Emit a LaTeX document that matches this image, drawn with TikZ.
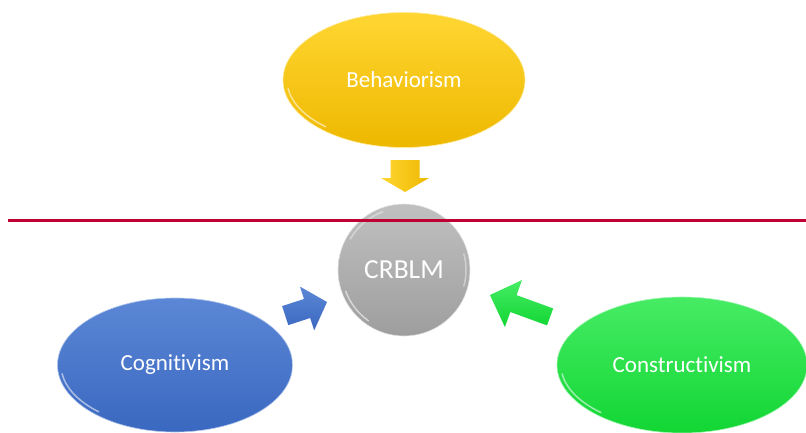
\documentclass[tikz,border=0pt]{standalone}
\usepackage{fontspec}
\setmainfont{Carlito}[Ligatures=NoCommon]
\usetikzlibrary{shapes.geometric}
\definecolor{yelT}{RGB}{255,214,50}
\definecolor{yelB}{RGB}{238,184,0}
\definecolor{bluT}{RGB}{92,135,214}
\definecolor{bluB}{RGB}{58,104,192}
\definecolor{grnT}{RGB}{70,236,100}
\definecolor{grnB}{RGB}{18,214,52}
\definecolor{gryT}{RGB}{192,192,192}
\definecolor{gryB}{RGB}{158,158,158}
\definecolor{lineRed}{RGB}{190,0,50}
\tikzset{
  bubble/.style={ellipse, inner sep=0pt, text=white, line width=.6pt,
    font=\fontsize{23}{27}\selectfont},
  hl/.style={white, line width=1.5pt, opacity=.55, line cap=round},
}
\begin{document}
\begin{tikzpicture}[x=1pt,y=1pt]
\useasboundingbox (0,0) rectangle (806,432);

% ellipses
\node[bubble, minimum width=242pt, minimum height=135pt, top color=yelT, bottom color=yelB, draw=yelT!50!white] (beh) at (404,352) {Behaviorism};
\node[bubble, minimum width=235pt, minimum height=134pt, top color=bluT, bottom color=bluB, draw=bluT!50!white] (cog) at (175,67) {\raisebox{-4pt}{Cognitivism}};
\node[bubble, minimum width=250pt, minimum height=136pt, top color=grnT, bottom color=grnB, draw=grnT!50!white] (con) at (682,67) {\raisebox{-3pt}{Constructivism}};

% circle
\node[circle, inner sep=0pt, minimum size=132pt, top color=gryT, bottom color=gryB, draw=white!80!gray, line width=.6pt, text=white, font=\fontsize{27.5}{32}\selectfont] (crb) at (404,162) {CRBLM};

% highlights
\draw[hl] ([shift={(188:117pt and 63pt)}]beh.center) arc[start angle=188, end angle=228, x radius=117pt, y radius=63pt];
\draw[hl] ([shift={(188:114pt and 63pt)}]cog.center) arc[start angle=188, end angle=228, x radius=114pt, y radius=63pt];
\draw[hl] ([shift={(188:121pt and 64pt)}]con.center) arc[start angle=188, end angle=228, x radius=121pt, y radius=64pt];
\draw[hl] ([shift={(200:62pt)}]crb.center) arc[start angle=200, end angle=235, radius=62pt];
\draw[hl, opacity=.4] ([shift={(110:62pt)}]crb.center) arc[start angle=110, end angle=150, radius=62pt];
\draw[hl, opacity=.4] ([shift={(-15:62pt)}]crb.center) arc[start angle=-15, end angle=15, radius=62pt];

% block arrows
\begin{scope}[shift={(405,272)}, rotate=-90]
  \shade[left color=yelT, right color=yelB] (0,14.5) -- (18,14.5) -- (18,24) -- (32,0) -- (18,-24) -- (18,-14.5) -- (0,-14.5) -- cycle;
\end{scope}
\begin{scope}[shift={(285.2,116.4)}, rotate=18]
  \shade[top color=bluT, bottom color=bluB] (0,10) -- (23,10) -- (23,23) -- (44,0) -- (23,-23) -- (23,-10) -- (0,-10) -- cycle;
\end{scope}
\begin{scope}[shift={(550.1,115.1)}, rotate=160, yscale=-1]
  \shade[top color=grnT, bottom color=grnB] (0,9) -- (39,9) -- (39,25) -- (64,0) -- (39,-25) -- (39,-9) -- (0,-9) -- cycle;
\end{scope}

% red rule
\coordinate (rl) at (8,212);
\coordinate (rr) at (806,212);
\draw[lineRed, line width=3pt] (rl) -- (rr);
\end{tikzpicture}
\end{document}
